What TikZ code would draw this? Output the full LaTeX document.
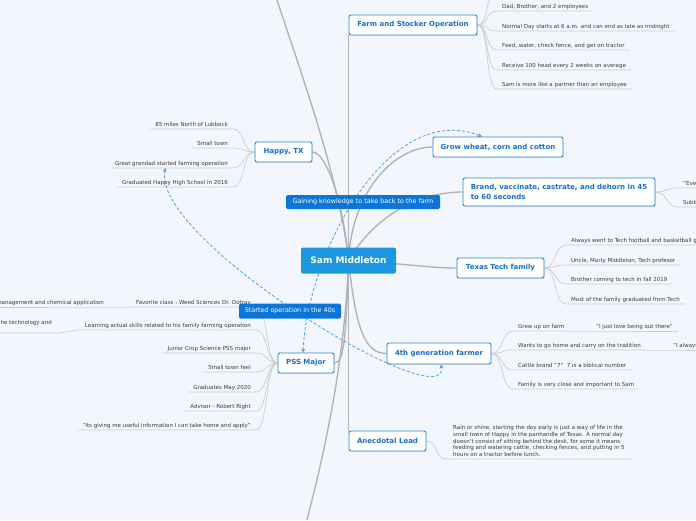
\documentclass[tikz,border=0pt]{standalone}
\usepackage{fontspec}
\setmainfont{DejaVu Sans}
\usetikzlibrary{arrows.meta,shadows}
\definecolor{bgcol}{RGB}{243,246,253}
\definecolor{mainborder}{RGB}{40,132,222}
\definecolor{maintext}{RGB}{22,110,208}
\definecolor{centerfill}{RGB}{28,152,226}
\definecolor{labelfill}{RGB}{10,118,218}
\definecolor{maingray}{RGB}{178,178,182}
\definecolor{subgray}{RGB}{205,206,212}
\definecolor{subtext}{RGB}{60,60,64}
\definecolor{relblue}{RGB}{80,160,230}
\pgfdeclarelayer{bg}\pgfdeclarelayer{lines}\pgfsetlayers{bg,lines,main}
\newcommand\subfont{\fontsize{5.5}{6.75}\selectfont}
\begin{document}
\begin{tikzpicture}[x=1pt,y=-1pt,
  maintopic/.style={draw=mainborder, line width=0.9pt, fill=white, rounded corners=2pt, text=maintext,
    font=\bfseries\fontsize{7}{8.4}\selectfont, inner sep=0pt,
    drop shadow={shadow xshift=0.7pt, shadow yshift=-0.9pt, opacity=0.18}},
  centertopic/.style={fill=centerfill, rounded corners=2pt, text=white, font=\bfseries\fontsize{9}{10}\selectfont, inner sep=0pt},
  rellabel/.style={fill=labelfill, rounded corners=1.5pt, text=white, font=\fontsize{6.4}{7.5}\selectfont, inner xsep=2pt, inner ysep=0pt},
  subitem/.style={inner xsep=5pt, inner ysep=1.6pt, text=subtext, font=\subfont, text height=4pt, text depth=1.2pt},
  rsub/.style={subitem, anchor=south west},
  lsub/.style={subitem, anchor=south east},
  mainline/.style={draw=maingray, line width=1.35pt},
  subline/.style={draw=subgray, line width=0.7pt},
  rel/.style={draw=relblue, line width=0.8pt, dash pattern=on 3pt off 2pt,
    arrows={Stealth[length=4pt,width=4pt]-Stealth[length=4pt,width=4pt]}}
]
\useasboundingbox (0,0) rectangle (696,520);
\begin{pgfonlayer}{bg}
\fill[bgcol] (0,0) rectangle (696,520);
\end{pgfonlayer}

% ---------- main nodes ----------
\node[centertopic, minimum width=95pt, minimum height=26pt] (sam) at (348.5,260.5) {Sam Middleton};
\node[maintopic, minimum width=128pt, minimum height=20pt] (farm) at (413,25) {Farm and Stocker Operation};
\node[maintopic, minimum width=57pt, minimum height=20pt] (happy) at (283.5,152) {Happy, TX};
\node[maintopic, minimum width=130pt, minimum height=20pt] (grow) at (498,147) {Grow wheat, corn and cotton};
\node[maintopic, align=left, minimum width=192pt, minimum height=28pt, font=\bfseries\fontsize{7}{10}\selectfont] (brand) at (559,192) {Brand, vaccinate, castrate, and dehorn in 45\\to 60 seconds};
\node[maintopic, minimum width=87pt, minimum height=20pt] (tech) at (500.5,268) {Texas Tech family};
\node[maintopic, minimum width=104pt, minimum height=21pt] (gen) at (439,353.5) {4th generation farmer};
\node[maintopic, minimum width=56pt, minimum height=20pt] (pss) at (306,363) {PSS Major};
\node[maintopic, minimum width=77pt, minimum height=20pt] (anec) at (387.5,441) {Anecdotal Lead};

\coordinate (tl) at (277,0);
\coordinate (bt) at (307,520);

% ---------- sub items ----------
\coordinate (f0) at (497,-9);
\node[rsub] (f1) at (497,11) {Dad, Brother, and 2 employees};
\node[rsub] (f2) at (497,31) {Normal Day starts at 6 a.m. and can end as late as midnight};
\node[rsub] (f3) at (497,50) {Feed, water, check fence, and get on tractor};
\node[rsub] (f4) at (497,70) {Receive 100 head every 2 weeks on average};
\node[rsub] (f5) at (497,89) {Sam is more like a partner than an employee};

\node[lsub] (h1) at (233,129) {85 miles North of Lubbock};
\node[lsub] (h2) at (233,148) {Small town};
\node[lsub] (h3) at (233,168) {Great grandad started farming operation};
\node[lsub] (h4) at (233,187) {Graduated Happy High School in 2016};

\node[rsub] (b1) at (678,188) {"Eve};
\node[rsub] (b2) at (678,207) {Subb};

\node[rsub] (t1) at (566,245) {Always went to Tech football and basketball games};
\node[rsub] (t2) at (566,265) {Uncle, Marty Middleton, Tech profesor};
\node[rsub] (t3) at (566,284) {Brother coming to tech in fall 2019};
\node[rsub] (t4) at (566,304) {Most of the family graduated from Tech};

\node[rsub] (g1) at (513,331) {Grew up on farm};
\node[rsub] (g1c) at (591,331) {"I just love being out there"};
\node[rsub] (g2) at (513,350) {Wants to go home and carry on the tradition};
\node[rsub] (g2c) at (668,350) {"I always};
\node[rsub] (g3) at (513,370) {Cattle brand "7"\ \ 7 is a biblical number};
\node[rsub] (g4) at (513,389) {Family is very close and important to Sam};

\node[lsub] (p1) at (256,307) {Favorite class - Weed Sciences Dr. Dotray};
\node[lsub] (p1c) at (109,307) {management and chemical application};
\node[lsub] (p2) at (256,330) {Learning actual skills related to his family farming operation};
\node[lsub, inner ysep=7pt] (p2c) at (57,333) {he technology and};
\node[lsub] (p3) at (256,353) {Junior Crop Science PSS major};
\node[lsub] (p4) at (256,372) {Small town feel};
\node[lsub] (p5) at (256,392) {Graduates May 2020};
\node[lsub] (p6) at (256,411) {Advisor - Robert Right};
\node[lsub] (p7) at (256,430) {"Its giving me useful information I can take home and apply"};

\node[subitem, anchor=south west, text height=, text depth=, align=left, inner xsep=7pt, inner ysep=2.2pt] (a1) at (446,459)
 {Rain or shine, starting the day early is just a way of life in the\\
  small town of Happy in the panhandle of Texas. A normal day\\
  doesn't consist of sitting behind the desk, for some it means\\
  feeding and watering cattle, checking fences, and putting in 5\\
  hours on a tractor before lunch.};

% ---------- relationship labels ----------
\node[rellabel, minimum width=154pt, minimum height=14pt] (gain) at (363,202) {Gaining knowledge to take back to the farm};
\node[rellabel, minimum width=102pt, minimum height=15pt] (started) at (290,311) {Started operation in the 40s};

% ---------- connectors ----------
\begin{pgfonlayer}{lines}
\draw[mainline] (farm.south west) -- (farm.south west |- sam.center);
\draw[mainline] (anec.north west) -- (anec.north west |- sam.center);
\draw[mainline] (sam.center) .. controls (340,180) and (300,70) .. (tl);
\draw[mainline] (sam.center) .. controls (343,200) and (326,152) .. (happy.east);
\draw[mainline] (sam.center) .. controls (352,190) and (395,147) .. (grow.west);
\draw[mainline] (sam.center) .. controls (375,215) and (420,192) .. (brand.west);
\draw[mainline] (sam.center) .. controls (410,264) and (430,268) .. (tech.west);
\draw[mainline] (sam.center) .. controls (356,330) and (365,353.5) .. (gen.west);
\draw[mainline] (sam.center) .. controls (346,330) and (345,363) .. (pss.east);
\draw[mainline] (sam.center) .. controls (345,360) and (325,450) .. (bt);

\draw[subline] (farm.east) .. controls +(12,0) and +(-12,0) .. (f0);
\foreach \c in {f1,f2,f3,f4,f5}
  \draw[subline] (farm.east) .. controls +(12,0) and +(-12,0) .. (\c.south west) -- (\c.south east);
\foreach \c in {h1,h2,h3,h4}
  \draw[subline] (happy.west) .. controls +(-12,0) and +(12,0) .. (\c.south east) -- (\c.south west);
\foreach \c in {b1,b2}
  \draw[subline] (brand.east) .. controls +(12,0) and +(-12,0) .. (\c.south west) -- (\c.south east);
\foreach \c in {t1,t2,t3,t4}
  \draw[subline] (tech.east) .. controls +(12,0) and +(-12,0) .. (\c.south west) -- (\c.south east);
\foreach \c in {g1,g2,g3,g4}
  \draw[subline] (gen.east) .. controls +(12,0) and +(-12,0) .. (\c.south west) -- (\c.south east);
\draw[subline] (g1.south east) -- (g1c.south west) -- (g1c.south east);
\draw[subline] (g2.south east) -- (g2c.south west) -- (g2c.south east);
\foreach \c in {p1,p2,p3,p4,p5,p6,p7}
  \draw[subline] (pss.west) .. controls +(-12,0) and +(12,0) .. (\c.south east) -- (\c.south west);
\draw[subline] (p1.south west) -- (p1c.south east) -- (p1c.south west);
\draw[subline] (p2.south west) .. controls +(-8,0) and +(8,0) .. (p2c.south east) -- (p2c.south west);
\draw[subline] (anec.east) .. controls +(12,0) and +(-12,0) .. (a1.south west) -- (a1.south east);

\draw[rel] ([xshift=-3pt]pss.north) .. controls (308,250) and (390,100) .. ([xshift=-16pt]grow.north);
\draw[rel] ([xshift=-6pt]h3.south) .. controls (150,240) and (450,420) .. ([xshift=2pt]gen.south);
\end{pgfonlayer}
\end{tikzpicture}
\end{document}
